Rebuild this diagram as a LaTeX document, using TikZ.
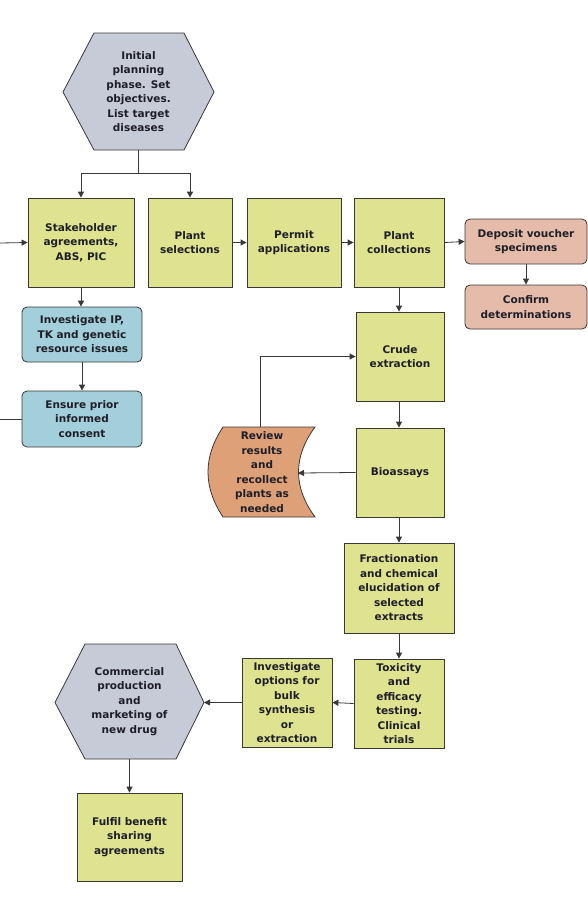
\documentclass[tikz,border=0pt]{standalone}
\usepackage{fontspec}
\setmainfont{DejaVu Sans}
\usetikzlibrary{arrows.meta}
\definecolor{boxgreen}{HTML}{DDE38F}
\definecolor{hexgrey}{HTML}{C7CBD8}
\definecolor{boxblue}{HTML}{A2CFD9}
\definecolor{boxpink}{HTML}{E5BBA9}
\definecolor{boxorange}{HTML}{DEA077}
\definecolor{edge}{HTML}{383838}
\definecolor{txt}{HTML}{1E1E28}
\begin{document}
\begin{tikzpicture}[x=1pt,y=-1pt,
  lbl/.style={align=center,text=txt,font=\fontsize{10.5}{14.5}\selectfont\bfseries,inner sep=0pt},
  gbox/.style={lbl,draw=edge,line width=0.8pt,fill=boxgreen,minimum width=#1},
  gbox/.default=90pt,
  rbox/.style={lbl,draw=edge,line width=0.8pt,rounded corners=5pt,minimum width=120pt},
  conn/.style={draw=edge,line width=0.8pt},
  arr/.style={conn,-{Triangle[length=6pt,width=6pt]}}]
\useasboundingbox (0,0) rectangle (588,914);
% hexagons
\draw[edge,line width=0.8pt,fill=hexgrey] (63,92) -- (94,33) -- (184,33) -- (214,92) -- (184,150) -- (94,150) -- cycle;
\node[lbl,minimum width=151pt,minimum height=117pt] (init) at (138.5,91.5) {Initial\\planning\\phase. Set\\objectives.\\List target\\diseases};
\draw[edge,line width=0.8pt,fill=hexgrey] (55,702.5) -- (85,644) -- (176,644) -- (204,702.5) -- (176,759) -- (85,759) -- cycle;
\node[lbl,minimum width=149pt,minimum height=115pt] (comm) at (129.5,701.5) {Commercial\\production\\and\\marketing of\\new drug};
% green boxes
\node[gbox=106pt,minimum height=89pt] (stake) at (81,242.5) {Stakeholder\\agreements,\\ABS, PIC};
\node[gbox=84pt,minimum height=89pt] (plsel) at (190,242.5) {Plant\\selections};
\node[gbox=94pt,minimum height=89pt] (permit) at (294,242.5) {Permit\\applications};
\node[gbox=90pt,minimum height=89pt] (plcol) at (399,242.5) {Plant\\collections};
\node[gbox=88pt,minimum height=89pt] (crude) at (400,356.5) {Crude\\extraction};
\node[gbox=88pt,minimum height=89pt] (bio) at (400,472.5) {Bioassays};
\node[gbox=110pt,minimum height=90pt] (frac) at (399,588) {Fractionation\\and chemical\\elucidation of\\selected\\extracts};
\node[gbox=90pt,minimum height=89pt] (tox) at (399,703.5) {Toxicity\\and\\efficacy\\testing.\\Clinical\\trials};
\node[gbox=90pt,minimum height=89pt] (opts) at (287,702.5) {Investigate\\options for\\bulk\\synthesis\\or\\extraction};
\node[gbox=105pt,minimum height=88pt] (fulfil) at (129.5,837) {Fulfil benefit\\sharing\\agreements};
% rounded boxes
\node[rbox,fill=boxpink,minimum width=122pt,minimum height=45pt] (deposit) at (526,241.5) {Deposit voucher\\specimens};
\node[rbox,fill=boxpink,minimum width=122pt,minimum height=44pt] (confirm) at (526,307) {Confirm\\determinations};
\node[rbox,fill=boxblue,minimum height=55pt] (ip) at (82,334.5) {Investigate IP,\\TK and genetic\\resource issues};
\node[rbox,fill=boxblue,minimum height=56pt] (consent) at (82,419) {Ensure prior\\informed\\consent};
% review shape
\draw[edge,line width=0.8pt,fill=boxorange] (223,427) -- (315,427) .. controls (293,457) and (293,487) .. (315,517) -- (223,517) .. controls (203,487) and (203,457) .. (223,427) -- cycle;
\node[lbl,minimum width=90pt,minimum height=90pt] (review) at (262,472) {Review\\results\\and\\recollect\\plants as\\needed};
\coordinate (revE) at (298,473);
\coordinate (revN) at (260,427);
\coordinate (leftIn) at (0,243);
\coordinate (leftOut) at (0,419);
\coordinate (commE) at (204,702.5);
% connectors
\draw[arr] (init.south) -- (138.5,173) -| (stake.north);
\draw[arr] (138.5,173) -| (plsel.north);
\draw[arr] (leftIn) -- (stake.west);
\draw[conn] (consent.west) -- (leftOut);
\draw[arr] (plsel.east) -- (permit.west);
\draw[arr] (permit.east) -- (plcol.west);
\draw[arr] (plcol.east) -- (deposit.west);
\draw[arr] (deposit.south) -- (confirm.north);
\draw[arr] (stake.south) -- (ip.north-|stake.south);
\draw[arr] (ip.south) -- (consent.north);
\draw[arr] (plcol.south) -- (crude.north-|plcol.south);
\draw[arr] (crude.south-|plcol.south) -- (bio.north-|plcol.south);
\draw[arr] (bio.west) -- (revE);
\draw[arr] (revN) |- (crude.west);
\draw[arr] (bio.south-|frac.north) -- (frac.north);
\draw[arr] (frac.south) -- (tox.north);
\draw[arr] (tox.west) -- (opts.east);
\draw[arr] (opts.west) -- (commE);
\draw[arr] (comm.south) -- (fulfil.north);
\end{tikzpicture}
\end{document}
